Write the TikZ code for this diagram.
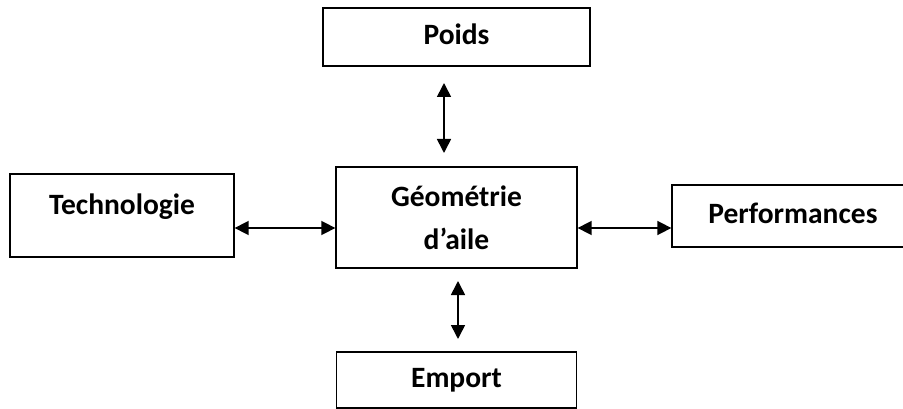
\documentclass[tikz,border=0pt]{standalone}
\usepackage{fontspec}
\setmainfont{Carlito}
\usetikzlibrary{arrows.meta}
\begin{document}
\begin{tikzpicture}[x=1pt,y=-1pt,
  box/.style={draw=black, line width=1.3pt, rectangle, inner sep=0pt, align=center,
    font=\fontsize{29.5}{43}\selectfont\bfseries, text height=21pt, text depth=6pt},
  arr/.style={line width=1.6pt, {Triangle[length=14pt,width=14pt]}-{Triangle[length=14pt,width=14pt]}}]
\useasboundingbox (0,0) rectangle (903,409);
\clip (0,0) rectangle (903,409);
\node[box, minimum width=267pt, minimum height=58pt] (poids) at (456.5,37) {Poids};
\node[box, minimum width=224pt, minimum height=83pt, text depth=23pt] (tech) at (122,215.5) {Technologie};
\node[box, minimum width=241pt, minimum height=101pt, text height={}, text depth={}] (geo) at (456.5,217.5) {Géométrie\\d’aile};
\node[box, minimum width=242pt, minimum height=62pt] (perf) at (793,216) {Performances};
\node[box, minimum width=240pt, minimum height=56pt] (emport) at (456.5,380) {Emport};
\coordinate (h) at (0,228);
\coordinate (pt) at (444,83);
\coordinate (pb) at (444,153);
\coordinate (et) at (458,281);
\coordinate (eb) at (458,339);
\draw[arr] (pt) -- (pb);
\draw[arr] (et) -- (eb);
\draw[arr] (tech.east |- h) -- (geo.west |- h);
\draw[arr] (geo.east |- h) -- (perf.west |- h);
\end{tikzpicture}
\end{document}
